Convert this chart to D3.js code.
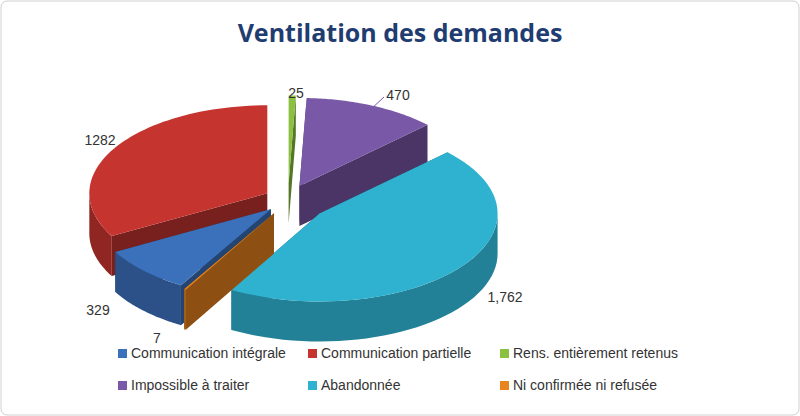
<!DOCTYPE html>
<html><head><meta charset="utf-8">
<script src="https://cdn.jsdelivr.net/npm/d3@7"></script>
<style>body{margin:0;background:#fff}svg{display:block}</style></head>
<body><svg id="c" width="800" height="416"></svg>
<script>
const categories=["Rens. entièrement retenus","Impossible à traiter","Abandonnée","Ni confirmée ni refusée","Communication intégrale","Communication partielle"];
const values=[25,470,1762,7,329,1282];
const valueLabels=["25","470","1,762","7","329","1282"];
const colors=["#8cc040","#7a58a8","#2fb2d0","#e8841e","#3b70bb","#c6342f"];
const legendOrder=["Communication intégrale","Communication partielle","Rens. entièrement retenus","Impossible à traiter","Abandonnée","Ni confirmée ni refusée"];
const explode=[30,28,40,28,24,24];

const svg=d3.select("#c");
svg.append("rect").attr("x",1).attr("y",1).attr("width",798).attr("height",414).attr("rx",6).attr("fill","#fff").attr("stroke","#d0d0d0");
svg.append("text").attr("x",400).attr("y",42).attr("text-anchor","middle").attr("font-family","Open Sans, sans-serif").attr("font-weight","bold").attr("font-size",25).attr("fill","#1f3d70").text("Ventilation des demandes");

const cx=288,cy=200,rx=178,ry=88,depth=40;
const pie=d3.pie().sort(null).value(d=>d).startAngle(0).endAngle(2*Math.PI);
const arcs=pie(values);
const P=(a,r,ox,oy,z)=>[ox+rx*r*Math.sin(a),oy-ry*r*Math.cos(a)+z];
const slices=arcs.map((d,i)=>{
  const m=(d.startAngle+d.endAngle)/2, e=explode[i];
  const ox=cx+e*Math.sin(m), oy=cy-e*0.55*Math.cos(m);
  return {d,i,m,ox,oy};
});
const g=svg.append("g");
const dark=(c,k)=>d3.color(c).darker(k);
slices.slice().sort((a,b)=>(a.oy-ry*0.5*Math.cos(a.m))-(b.oy-ry*0.5*Math.cos(b.m))).forEach(s=>{
  const {d,i,ox,oy}=s, a0=d.startAngle,a1=d.endAngle, c=colors[i];
  const walls=[a0,a1].map(a=>({a,y:-Math.cos(a)})).sort((p,q)=>p.y-q.y);
  walls.forEach(w=>{
    const p=P(w.a,1,ox,oy,0),q=P(w.a,1,ox,oy,depth);
    g.append("path").attr("d",`M${ox},${oy}L${p}L${q}L${ox},${oy+depth}Z`).attr("fill",dark(c,1.4));
  });
  const lo=Math.max(a0,Math.PI/2),hi=Math.min(a1,3*Math.PI/2);
  if(hi>lo){
    const n=40,top=[],bot=[];
    for(let k=0;k<=n;k++){const a=lo+(hi-lo)*k/n;top.push(P(a,1,ox,oy,0));bot.push(P(a,1,ox,oy,depth));}
    g.append("path").attr("d","M"+top.join("L")+"L"+bot.reverse().join("L")+"Z").attr("fill",dark(c,0.9));
  }
  const n=60,pts=[];
  for(let k=0;k<=n;k++)pts.push(P(a0+(a1-a0)*k/n,1,ox,oy,0));
  g.append("path").attr("d",`M${ox},${oy}L`+pts.join("L")+"Z").attr("fill",c);
});
const labelPos=[[296,98],[398,100],[505,302],[157,343],[98,315],[100,145]];
slices.forEach((s,i)=>{
  svg.append("text").attr("x",labelPos[i][0]).attr("y",labelPos[i][1]).attr("text-anchor","middle").attr("font-family","Liberation Sans, Arial, sans-serif").attr("font-size",14).attr("fill","#333").text(valueLabels[i]);
});
svg.append("line").attr("x1",384).attr("y1",97).attr("x2",370).attr("y2",110).attr("stroke","#7a58a8");
const lx=[118,308,500],ly=[358,390];
legendOrder.forEach((name,k)=>{
  const i=categories.indexOf(name),x=lx[k%3],y=ly[Math.floor(k/3)];
  svg.append("rect").attr("x",x).attr("y",y-9).attr("width",9).attr("height",9).attr("fill",colors[i]);
  svg.append("text").attr("x",x+13).attr("y",y).attr("font-family","Liberation Sans, Arial, sans-serif").attr("font-size",14).attr("fill","#333").text(name);
});
</script></body></html>
